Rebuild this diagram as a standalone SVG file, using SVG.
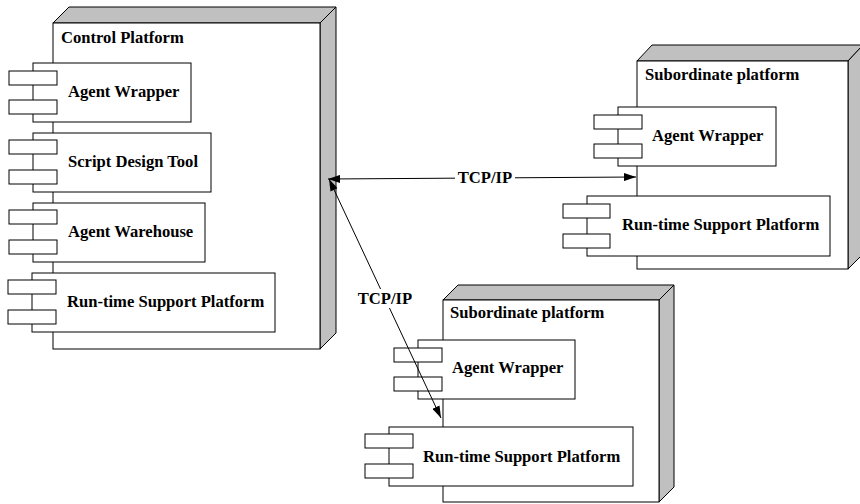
<svg xmlns="http://www.w3.org/2000/svg" width="860" height="504" viewBox="0 0 860 504">
<defs>
<style>
.face{fill:#fff;stroke:#000;stroke-width:1}
.shade{fill:#c0c0c0;stroke:#000;stroke-width:1}
.comp{fill:#fff;stroke:#000;stroke-width:1}
.t{font-weight:bold;font-size:16.6px;fill:#000}
.conn{stroke:#000;stroke-width:1;fill:none;marker-start:url(#ah);marker-end:url(#ah)}
</style>
<marker id="ah" viewBox="0 0 12 8" refX="12" refY="4" markerWidth="12" markerHeight="8" markerUnits="userSpaceOnUse" orient="auto-start-reverse">
<path d="M0,0 L12,4 L0,8 z" fill="#000"/>
</marker>
</defs>
<rect width="860" height="504" fill="#fff"/>
<g font-family="Liberation Serif, Times New Roman, DejaVu Serif, serif">
<g id="control-platform">
<polygon class="shade" points="53,23 69,7 336,7 320,23"/>
<polygon class="shade" points="320,23 336,7 336,333 320,349"/>
<rect class="face" x="53" y="23" width="267" height="326"/>
<text class="t" x="61" y="43">Control Platform</text>
<g id="cp-agent-wrapper">
<rect class="comp" x="33" y="63" width="158" height="59"/>
<rect class="comp" x="9" y="71" width="48" height="14"/>
<rect class="comp" x="9" y="100" width="48" height="14"/>
<text class="t" x="68" y="97">Agent Wrapper</text>
</g>
<g id="cp-script-design-tool">
<rect class="comp" x="33" y="133" width="178" height="59"/>
<rect class="comp" x="9" y="140" width="48" height="14"/>
<rect class="comp" x="9" y="170" width="48" height="14"/>
<text class="t" x="68" y="167">Script Design Tool</text>
</g>
<g id="cp-agent-warehouse">
<rect class="comp" x="33" y="203" width="172" height="59"/>
<rect class="comp" x="9" y="210" width="48" height="14"/>
<rect class="comp" x="9" y="240" width="48" height="14"/>
<text class="t" x="68" y="237">Agent Warehouse</text>
</g>
<g id="cp-runtime">
<rect class="comp" x="32" y="273" width="243" height="59"/>
<rect class="comp" x="8" y="280" width="48" height="14"/>
<rect class="comp" x="8" y="310" width="48" height="14"/>
<text class="t" x="67" y="307">Run-time Support Platform</text>
</g>
</g>

<g id="subordinate-platform-1">
<polygon class="shade" points="637,61 652,45 863,45 848,61"/>
<polygon class="shade" points="848,61 863,45 863,254 848,269"/>
<rect class="face" x="637" y="61" width="211" height="208"/>
<text class="t" x="645" y="80">Subordinate platform</text>
<g id="sp1-agent-wrapper">
<rect class="comp" x="618" y="107" width="158" height="59"/>
<rect class="comp" x="594" y="115" width="48" height="14"/>
<rect class="comp" x="594" y="144" width="48" height="14"/>
<text class="t" x="652" y="141">Agent Wrapper</text>
</g>
<g id="sp1-runtime">
<rect class="comp" x="587" y="196" width="243" height="60"/>
<rect class="comp" x="563" y="204" width="47" height="14"/>
<rect class="comp" x="563" y="234" width="47" height="14"/>
<text class="t" x="622" y="230">Run-time Support Platform</text>
</g>
</g>

<g id="subordinate-platform-2">
<polygon class="shade" points="443,300 458,285 674,285 659,300"/>
<polygon class="shade" points="659,300 674,285 674,487 659,502"/>
<rect class="face" x="443" y="300" width="216" height="202"/>
<text class="t" x="450" y="318">Subordinate platform</text>
<g id="sp2-agent-wrapper">
<rect class="comp" x="418" y="340" width="157" height="59"/>
<rect class="comp" x="394" y="348" width="48" height="14"/>
<rect class="comp" x="394" y="377" width="48" height="14"/>
<text class="t" x="452" y="373">Agent Wrapper</text>
</g>
<g id="sp2-runtime">
<rect class="comp" x="389" y="427" width="244" height="59"/>
<rect class="comp" x="365" y="434" width="48" height="14"/>
<rect class="comp" x="365" y="464" width="48" height="14"/>
<text class="t" x="423" y="462">Run-time Support Platform</text>
</g>
</g>

<g id="connectors">
<line class="conn" x1="328" y1="179" x2="636" y2="177"/>
<rect x="455" y="170" width="60" height="16" fill="#fff"/>
<text class="t" x="485" y="183" text-anchor="middle">TCP/IP</text>
<line class="conn" x1="329" y1="179" x2="441" y2="418"/>
<rect x="357" y="289" width="56" height="19" fill="#fff"/>
<text class="t" x="385" y="304" text-anchor="middle">TCP/IP</text>
</g>
</g>
</svg>
